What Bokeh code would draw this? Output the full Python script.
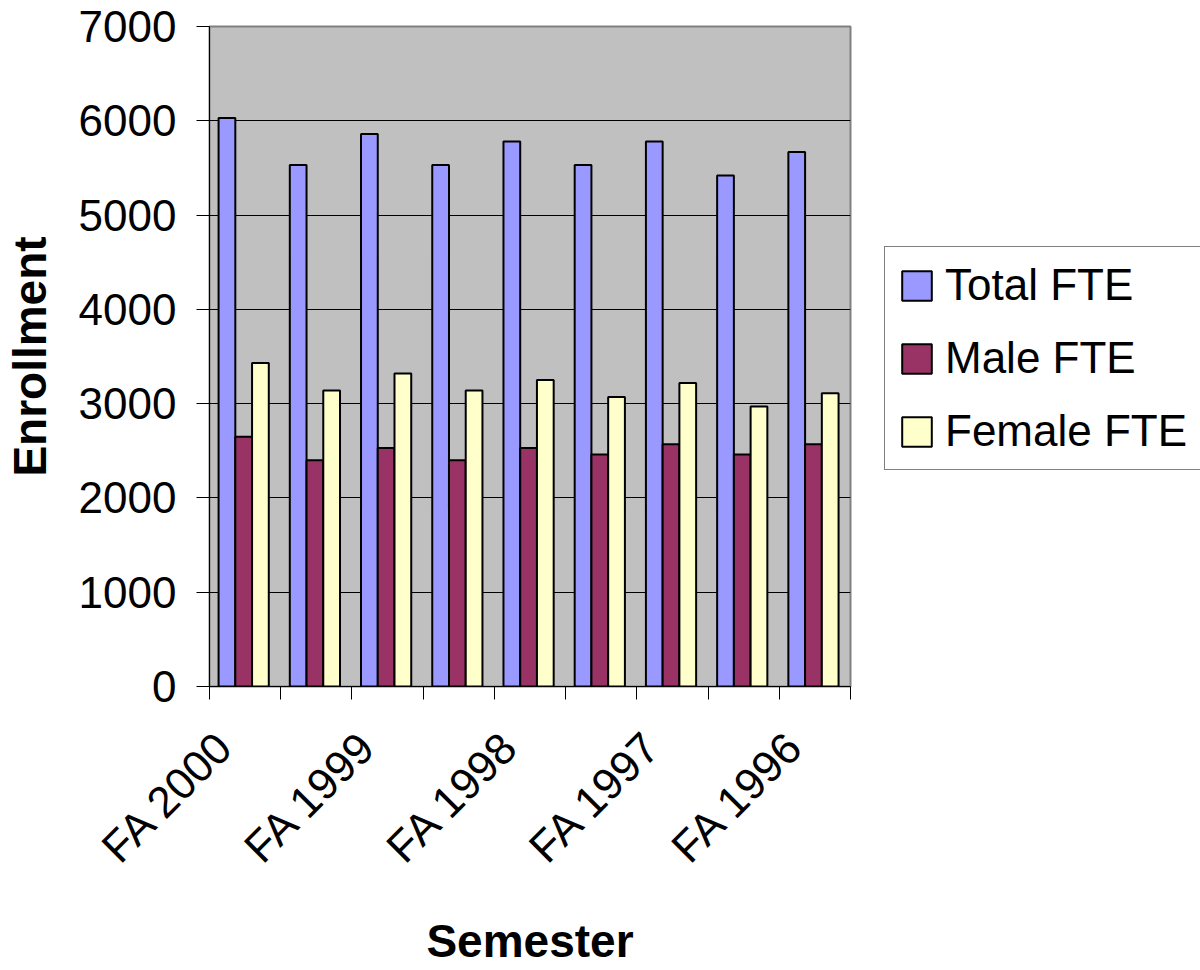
import math
from bokeh.plotting import figure
from bokeh.layouts import row
from bokeh.models import (Range1d, LinearAxis, FixedTicker,
                          SingleIntervalTicker, Legend, LegendItem, ColumnDataSource)
from bokeh.transform import dodge
from bokeh.embed import file_html
from bokeh.resources import INLINE

# ---- data ----
semesters = ["FA 2000", "SP 2000", "FA 1999", "SP 1999", "FA 1998",
             "SP 1998", "FA 1997", "SP 1997", "FA 1996"]
tick_labels = ["FA 2000", "", "FA 1999", "", "FA 1998", "", "FA 1997", "", "FA 1996"]
total_fte = [6030, 5530, 5860, 5530, 5780, 5530, 5780, 5420, 5670]
male_fte = [2650, 2400, 2530, 2400, 2530, 2460, 2570, 2460, 2570]
female_fte = [3430, 3140, 3320, 3140, 3250, 3070, 3220, 2970, 3110]
series_names = ["Total FTE", "Male FTE", "Female FTE"]
y_ticks_interval = 1000

FONT = "Liberation Sans"
colors = ["#9999FF", "#993366", "#FFFFCC"]

n = len(semesters)
centers = [i + 0.5 for i in range(n)]          # slot centre of each semester
src = ColumnDataSource(dict(sem=semesters, pos=centers,
                            total=total_fte, male=male_fte, female=female_fte))

H = 970
W_MAIN, W_LEG = 870, 330
FRAME_L, FRAME_T, FRAME_W, FRAME_H = 208, 26, 641, 660
p = figure(x_range=Range1d(0, n), y_range=Range1d(0, 7000),
           width=W_MAIN, height=H, output_backend="svg", toolbar_location=None,
           x_axis_location=None, min_border_left=FRAME_L, min_border_top=FRAME_T,
           min_border_right=W_MAIN - FRAME_L - FRAME_W, min_border_bottom=H - FRAME_T - FRAME_H,
           frame_width=FRAME_W, frame_height=FRAME_H)
p.background_fill_color = "#C0C0C0"
p.border_fill_color = "white"
p.outline_line_color = "#808080"
p.outline_line_width = 2

# x axis: minor ticks mark the slot boundaries, labels sit under every other slot
label_shift = 0.28
label_pos = [round(c - label_shift, 3) for c, t in zip(centers, tick_labels) if t]
label_txt = [t for t in tick_labels if t]
xaxis = LinearAxis(ticker=FixedTicker(ticks=label_pos, minor_ticks=list(range(n + 1))),
                   major_tick_line_color=None, major_tick_out=13, major_tick_in=0,
                   minor_tick_line_color="black", minor_tick_out=13, minor_tick_in=0,
                   axis_line_color="black",
                   major_label_orientation=math.pi / 4,
                   major_label_text_font=FONT, major_label_text_font_size="44px",
                   major_label_text_color="black", major_label_standoff=39,
                   major_label_overrides={pos: t for pos, t in zip(label_pos, label_txt)},
                   axis_label="Semester", axis_label_text_font=FONT,
                   axis_label_text_font_size="46px", axis_label_text_font_style="bold",
                   axis_label_text_color="black", axis_label_standoff=23)
p.add_layout(xaxis, "below")

p.yaxis.ticker = SingleIntervalTicker(interval=y_ticks_interval)
p.yaxis.minor_tick_line_color = None
p.yaxis.major_tick_out = 13
p.yaxis.major_tick_in = 0
p.yaxis.axis_line_color = "black"
p.yaxis.major_tick_line_color = "black"
p.yaxis.major_label_text_font = FONT
p.yaxis.major_label_text_font_size = "44px"
p.yaxis.major_label_text_color = "black"
p.yaxis.major_label_standoff = 20
p.yaxis.axis_label = "Enrollment"
p.yaxis.axis_label_text_font = FONT
p.yaxis.axis_label_text_font_size = "46px"
p.yaxis.axis_label_text_font_style = "bold"
p.yaxis.axis_label_text_color = "black"
p.yaxis.axis_label_standoff = 20

p.xgrid.grid_line_color = None
p.ygrid.grid_line_color = "black"
p.ygrid.grid_line_width = 1

offsets = [-0.255, -0.02, 0.215]
cols = ["total", "male", "female"]
for col, off, c in zip(cols, offsets, colors):
    p.vbar(x=dodge("pos", off), top=col, width=0.235, source=src,
           fill_color=c, line_color="black", line_width=2)

# ---- legend panel (separate figure to the right of the plot) ----
# its ranges keep the swatch renderers' bars out of view; only the legend shows
pl = figure(width=W_LEG, height=H, output_backend="svg", toolbar_location=None,
            x_range=Range1d(-3, -2), y_range=Range1d(0, 1),
            x_axis_location=None, y_axis_location=None, min_border=0)
pl.outline_line_color = None
pl.background_fill_color = "white"
pl.border_fill_color = "white"
pl.xgrid.grid_line_color = None
pl.ygrid.grid_line_color = None
swatches = []
for col, off, c in zip(cols, offsets, colors):
    swatches.append(pl.vbar(x=dodge("pos", off), top=col, width=0.235, source=src,
                            fill_color=c, line_color="black", line_width=2))

frame_bottom = FRAME_T + FRAME_H
legend = Legend(items=[LegendItem(label=nm, renderers=[r]) for nm, r in zip(series_names, swatches)],
                location=(883 - W_MAIN, frame_bottom - 470), orientation="vertical",
                label_text_font=FONT, label_text_font_size="44px", label_text_color="black",
                glyph_width=37, glyph_height=37, label_standoff=10, label_width=242,
                padding=13, spacing=23, margin=0,
                border_line_color="black", border_line_width=1,
                background_fill_color="white", background_fill_alpha=1.0)
pl.add_layout(legend, "center")

layout = row(p, pl)
open("out.html", "w").write(file_html(layout, INLINE))
